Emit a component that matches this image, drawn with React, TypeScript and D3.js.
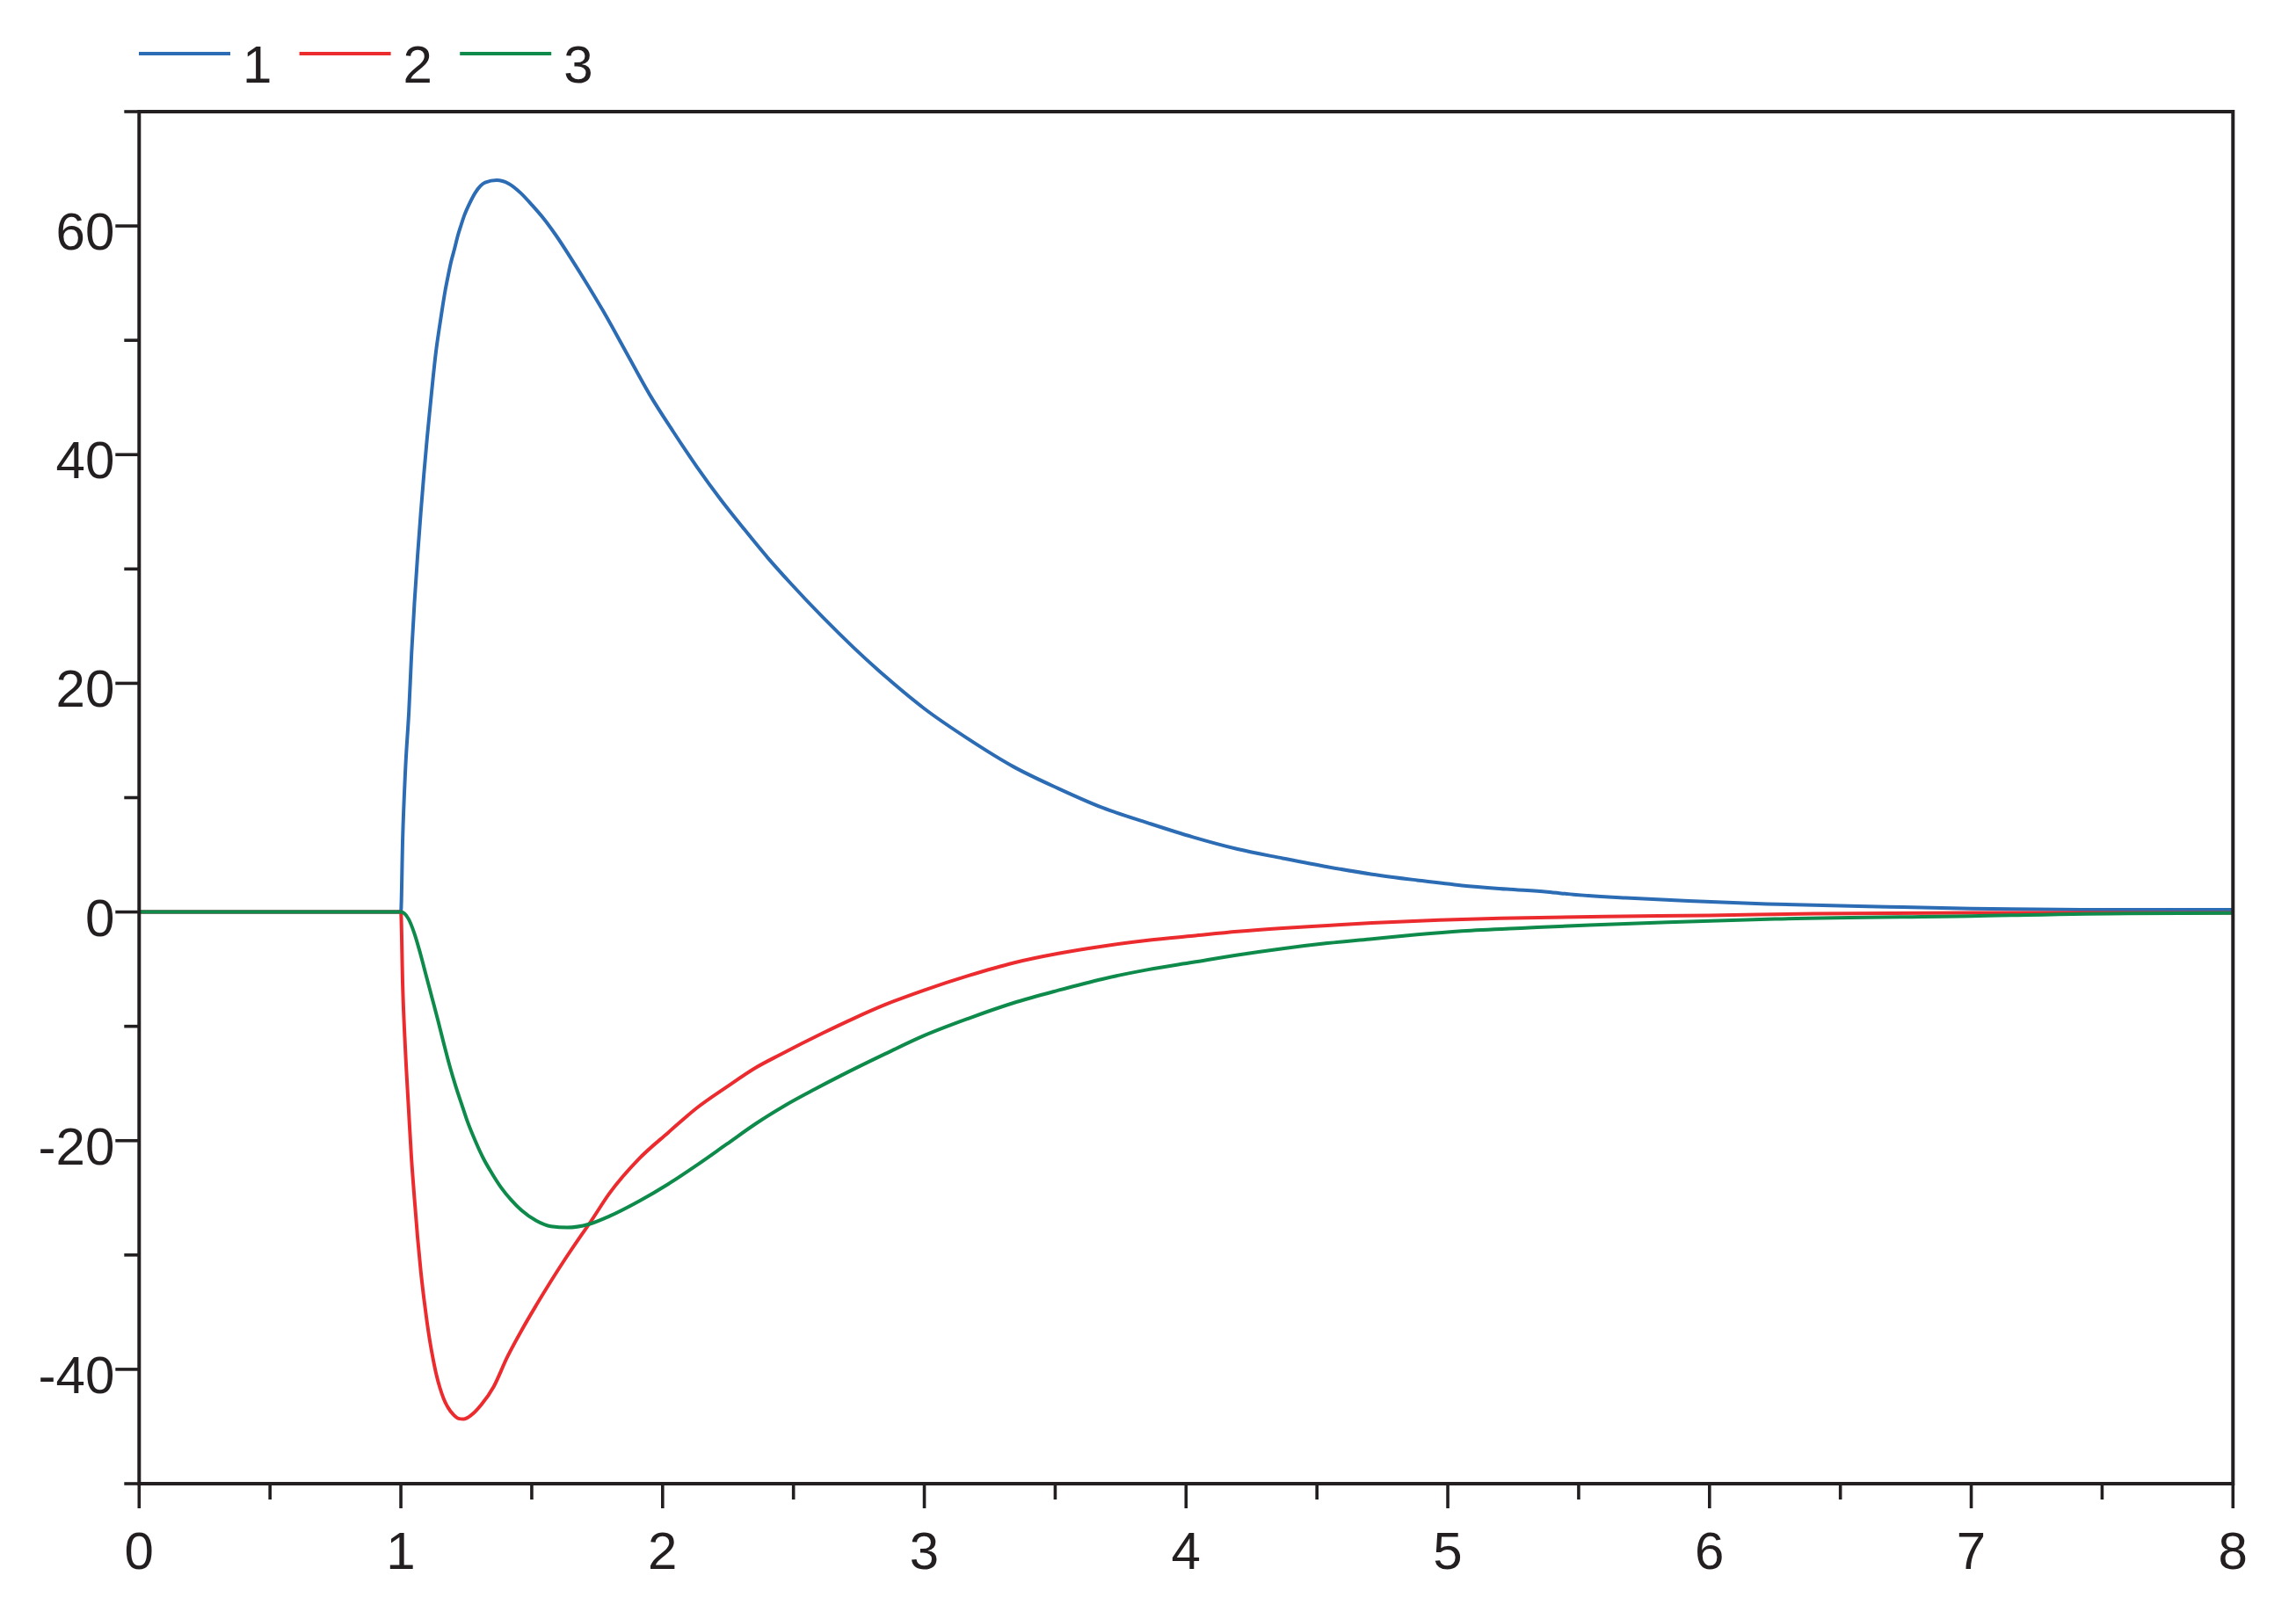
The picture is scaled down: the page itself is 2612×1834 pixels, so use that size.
import React from "react";
import * as d3 from "d3";

const WIDTH = 2612;
const HEIGHT = 1834;

const seriesNames = ["1", "2", "3"];
const seriesColors = ["#2c6cb4", "#ec2b2f", "#0e8a4b"];

const t1 = [0, 1.0, 1.007, 1.017, 1.031, 1.041, 1.052, 1.064, 1.076, 1.088, 1.1, 1.112, 1.122, 1.134, 1.145, 1.157, 1.169, 1.181, 1.191, 1.205, 1.217, 1.229, 1.242, 1.259, 1.284, 1.322, 1.366, 1.412, 1.457, 1.502, 1.547, 1.592, 1.652, 1.712, 1.772, 1.862, 1.952, 2.041, 2.132, 2.221, 2.311, 2.401, 2.491, 2.611, 2.731, 2.851, 2.999, 3.17, 3.341, 3.512, 3.683, 3.855, 4.026, 4.197, 4.369, 4.54, 4.711, 4.883, 5.054, 5.225, 5.38, 5.49, 5.68, 5.92, 6.22, 6.68, 7.0, 7.5, 8.0];
const v1 = [0, 0, 6.5, 12.3, 17.7, 22.7, 27.1, 31.2, 34.9, 38.3, 41.4, 44.2, 46.5, 49.0, 50.8, 52.6, 54.3, 55.7, 56.8, 58.0, 59.1, 60.0, 60.9, 61.8, 62.9, 63.8, 64.0, 63.7, 62.9, 61.8, 60.6, 59.2, 57.1, 54.9, 52.6, 48.9, 45.2, 42.0, 38.9, 36.1, 33.5, 31.0, 28.7, 25.8, 23.1, 20.6, 17.8, 15.1, 12.7, 10.8, 9.1, 7.78, 6.55, 5.5, 4.7, 3.95, 3.3, 2.78, 2.32, 2.0, 1.75, 1.5, 1.24, 0.96, 0.7, 0.45, 0.3, 0.19, 0.19];

const t2 = [0, 1.0, 1.007, 1.017, 1.029, 1.04, 1.052, 1.064, 1.076, 1.088, 1.1, 1.112, 1.124, 1.136, 1.149, 1.164, 1.179, 1.202, 1.22, 1.239, 1.269, 1.307, 1.355, 1.405, 1.461, 1.517, 1.573, 1.629, 1.685, 1.719, 1.797, 1.909, 2.021, 2.133, 2.245, 2.357, 2.447, 2.611, 2.731, 2.851, 2.999, 3.17, 3.341, 3.512, 3.683, 3.855, 4.026, 4.197, 4.369, 4.54, 4.711, 4.968, 5.2, 5.6, 6.0, 6.4, 7.0, 8.0];
const v2 = [0, 0, -6.5, -12.0, -17.0, -21.4, -25.1, -28.5, -31.4, -33.8, -35.9, -37.7, -39.2, -40.5, -41.6, -42.6, -43.3, -44.0, -44.3, -44.35, -44.0, -43.1, -41.5, -39.0, -36.6, -34.4, -32.3, -30.3, -28.4, -27.3, -24.6, -21.6, -19.3, -17.1, -15.3, -13.6, -12.5, -10.6, -9.3, -8.1, -6.84, -5.56, -4.45, -3.63, -2.99, -2.48, -2.09, -1.71, -1.42, -1.19, -0.96, -0.7, -0.56, -0.4, -0.3, -0.15, -0.07, -0.07];

const t3 = [0, 1.0, 1.029, 1.052, 1.074, 1.097, 1.119, 1.142, 1.164, 1.187, 1.209, 1.232, 1.254, 1.284, 1.314, 1.349, 1.383, 1.422, 1.461, 1.517, 1.573, 1.635, 1.719, 1.797, 1.909, 2.021, 2.133, 2.245, 2.357, 2.469, 2.581, 2.682, 2.851, 2.99, 3.17, 3.341, 3.512, 3.683, 3.855, 4.026, 4.197, 4.369, 4.54, 4.711, 4.883, 5.054, 5.31, 5.54, 5.84, 6.25, 7.0, 7.6, 8.0];
const v3 = [0, 0, -0.6, -1.9, -3.6, -5.6, -7.5, -9.5, -11.5, -13.5, -15.2, -16.8, -18.3, -20.0, -21.5, -22.9, -24.1, -25.2, -26.1, -27.0, -27.5, -27.6, -27.3, -26.6, -25.3, -23.8, -22.1, -20.3, -18.5, -16.9, -15.5, -14.3, -12.4, -10.9, -9.3, -7.95, -6.85, -5.85, -5.04, -4.4, -3.76, -3.2, -2.73, -2.35, -1.98, -1.67, -1.38, -1.14, -0.89, -0.61, -0.35, -0.12, -0.09];

const xTickValues = [0, 0.5, 1, 1.5, 2, 2.5, 3, 3.5, 4, 4.5, 5, 5.5, 6, 6.5, 7, 7.5, 8];
const xTickLabels = ["0", "", "1", "", "2", "", "3", "", "4", "", "5", "", "6", "", "7", "", "8"];
const yTickValues = [-50, -40, -30, -20, -10, 0, 10, 20, 30, 40, 50, 60, 70];
const yTickLabels = ["", "-40", "", "-20", "", "0", "", "20", "", "40", "", "60", ""];

const X0 = 158.3;
const X1 = 2540.3;
const Y0 = 1688;
const Y1 = 127;

export default function App() {
  const x = d3.scaleLinear().domain([0, 8]).range([X0, X1]);
  const y = d3.scaleLinear().domain([-50, 70]).range([Y0, Y1]);
  const line = d3
    .line<[number, number]>()
    .x((d) => x(d[0]))
    .y((d) => y(d[1]))
    .curve(d3.curveMonotoneX);

  const series = [
    { t: t1, v: v1 },
    { t: t2, v: v2 },
    { t: t3, v: v3 },
  ];

  const axisColor = "#231f20";
  const font = "'Liberation Sans', Arial, Helvetica, sans-serif";
  const fontSize = 60;

  return (
    <svg
      width={WIDTH}
      height={HEIGHT}
      style={{ position: "absolute", left: 0, top: 0, background: "#fff" }}
      xmlns="http://www.w3.org/2000/svg"
    >
      <rect x={0} y={0} width={WIDTH} height={HEIGHT} fill="#fff" />
      {seriesNames.map((name, i) => {
        const lx = 158 + i * 182.6;
        return (
          <g key={name}>
            <line x1={lx} x2={lx + 104} y1={61} y2={61} stroke={seriesColors[i]} strokeWidth={4} />
            <text x={lx + 118} y={94} fontFamily={font} fontSize={fontSize} fill={axisColor}>
              {name}
            </text>
          </g>
        );
      })}
      {series.map((s, i) => (
        <path
          key={i}
          d={line(s.t.map((tt, j) => [tt, s.v[j]] as [number, number])) || ""}
          fill="none"
          stroke={seriesColors[i]}
          strokeWidth={4}
          strokeLinejoin="round"
        />
      ))}
      <rect x={X0} y={Y1} width={X1 - X0} height={Y0 - Y1} fill="none" stroke={axisColor} strokeWidth={4} />
      {yTickValues.map((v, i) => {
        const major = yTickLabels[i] !== "" || v === 0;
        const len = major ? 27 : 17;
        return (
          <g key={"y" + v}>
            <line x1={X0 - len} x2={X0} y1={y(v)} y2={y(v)} stroke={axisColor} strokeWidth={3.6} />
            {yTickLabels[i] !== "" && (
              <text
                x={X0 - 28}
                y={y(v) + 27}
                textAnchor="end"
                fontFamily={font}
                fontSize={fontSize}
                fill={axisColor}
              >
                {yTickLabels[i]}
              </text>
            )}
          </g>
        );
      })}
      {xTickValues.map((v, i) => {
        const major = xTickLabels[i] !== "";
        const len = major ? 28 : 18;
        return (
          <g key={"x" + v}>
            <line x1={x(v)} x2={x(v)} y1={Y0} y2={Y0 + len} stroke={axisColor} strokeWidth={3.6} />
            {major && (
              <text
                x={x(v)}
                y={1785}
                textAnchor="middle"
                fontFamily={font}
                fontSize={fontSize}
                fill={axisColor}
              >
                {xTickLabels[i]}
              </text>
            )}
          </g>
        );
      })}
    </svg>
  );
}
